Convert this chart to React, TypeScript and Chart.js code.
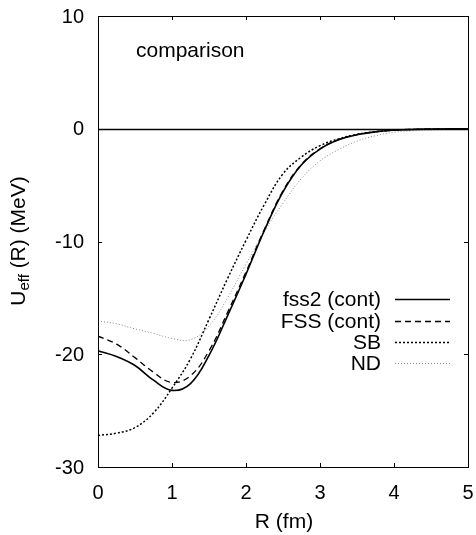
import React, { useEffect, useRef } from "react";
import { Chart, registerables } from "chart.js";

Chart.register(...registerables);

const R = [0, 0.25, 0.5, 0.75, 1, 1.25, 1.5, 1.75, 2, 2.25, 2.5, 2.75, 3, 3.25, 3.5, 3.75, 4, 4.25, 4.5, 4.75, 5];
const fss2 = [-19.7, -20.2, -21.0, -22.3, -23.2, -22.6, -20.1, -16.6, -12.9, -9.0, -5.6, -3.2, -1.8, -0.98, -0.53, -0.27, -0.13, -0.06, -0.03, -0.01, 0];
const FSS = [-18.4, -19.1, -20.3, -21.6, -22.5, -21.9, -19.7, -16.3, -12.7, -8.9, -5.5, -3.15, -1.78, -0.97, -0.52, -0.27, -0.13, -0.06, -0.03, -0.01, 0];
const SB = [-27.2, -27.0, -26.5, -25.2, -23.0, -20.4, -16.9, -13.3, -9.9, -6.7, -4.0, -2.5, -1.5, -0.9, -0.5, -0.26, -0.12, -0.06, -0.03, -0.01, 0];
const ND = [-17.05, -17.3, -17.75, -18.15, -18.6, -18.7, -17.5, -15.0, -12.0, -9.1, -6.6, -4.4, -2.85, -1.85, -1.1, -0.62, -0.32, -0.17, -0.1, -0.04, 0];

const seriesNames = ["fss2 (cont)", "FSS (cont)", "SB", "ND"];
const xTicks = [0, 1, 2, 3, 4, 5];
const yTicks = [-30, -20, -10, 0, 10];

const FONT = "'Liberation Sans', Arial, Helvetica, sans-serif";
const TICK_SIZE = 20;
const TEXT_SIZE = 21;

const styles = [
  { color: "#000", width: 1.6, dash: [] as number[] },
  { color: "#000", width: 1.3, dash: [6, 4] },
  { color: "#000", width: 1.5, dash: [2, 2] },
  { color: "#888", width: 1, dash: [1, 2] },
];

const decorPlugin = {
  id: "decor",
  afterDraw(chart: any) {
    const ctx = chart.ctx as CanvasRenderingContext2D;
    const { left, right, top, bottom } = chart.chartArea;
    const xs = chart.scales.x;
    const ys = chart.scales.y;
    ctx.save();
    ctx.strokeStyle = "#000";
    ctx.setLineDash([]);
    // zero line
    const y0 = Math.round(ys.getPixelForValue(0)) + 0.5;
    ctx.beginPath();
    ctx.moveTo(left, y0);
    ctx.lineTo(right, y0);
    ctx.lineWidth = 1.5;
    ctx.stroke();
    ctx.lineWidth = 1;
    // frame
    ctx.strokeRect(Math.round(left) + 0.5, Math.round(top) + 0.5, Math.round(right - left), Math.round(bottom - top));
    // ticks inward
    const tl = 4;
    ctx.beginPath();
    xTicks.forEach((v) => {
      const px = Math.round(xs.getPixelForValue(v)) + 0.5;
      ctx.moveTo(px, bottom);
      ctx.lineTo(px, bottom - tl);
      ctx.moveTo(px, top);
      ctx.lineTo(px, top + tl);
    });
    yTicks.forEach((v) => {
      const py = Math.round(ys.getPixelForValue(v)) + 0.5;
      ctx.moveTo(left, py);
      ctx.lineTo(left + tl, py);
      ctx.moveTo(right, py);
      ctx.lineTo(right - tl, py);
    });
    ctx.stroke();

    ctx.fillStyle = "#000";
    // tick labels
    ctx.font = `${TICK_SIZE}px ${FONT}`;
    ctx.textBaseline = "middle";
    ctx.textAlign = "center";
    xTicks.forEach((v) => {
      ctx.fillText(String(v), xs.getPixelForValue(v), 493);
    });
    ctx.textAlign = "right";
    yTicks.forEach((v) => {
      ctx.fillText(String(v), 84, ys.getPixelForValue(v) + 1);
    });

    // comparison label
    ctx.font = `${TEXT_SIZE}px ${FONT}`;
    ctx.textAlign = "left";
    ctx.fillText("comparison", 136, 51);

    // legend
    const rows = [299, 321, 342, 363];
    seriesNames.forEach((name, i) => {
      ctx.textAlign = "right";
      ctx.fillStyle = "#000";
      ctx.fillText(name, 381, rows[i] + 1);
      const s = styles[i];
      ctx.beginPath();
      ctx.strokeStyle = s.color;
      ctx.lineWidth = s.width;
      ctx.setLineDash(s.dash);
      ctx.moveTo(395, rows[i] + 0.5);
      ctx.lineTo(450, rows[i] + 0.5);
      ctx.stroke();
    });
    ctx.setLineDash([]);

    // x title
    ctx.fillStyle = "#000";
    ctx.textAlign = "center";
    ctx.textBaseline = "middle";
    ctx.fillText("R (fm)", 284, 522);

    // y title with subscript
    ctx.save();
    ctx.translate(18, 241);
    ctx.rotate(-Math.PI / 2);
    const big = `${TEXT_SIZE}px ${FONT}`;
    const small = `15px ${FONT}`;
    ctx.font = big;
    const wU = ctx.measureText("U").width;
    const rest = " (R) (MeV)";
    const wRest = ctx.measureText(rest).width;
    ctx.font = small;
    const wSub = ctx.measureText("eff").width;
    const total = wU + wSub + wRest;
    let x = -total / 2;
    ctx.textAlign = "left";
    ctx.textBaseline = "alphabetic";
    ctx.font = big;
    ctx.fillText("U", x, 7);
    x += wU;
    ctx.font = small;
    ctx.fillText("eff", x, 11);
    x += wSub;
    ctx.font = big;
    ctx.fillText(rest, x, 7);
    ctx.restore();

    ctx.restore();
  },
};

export default function App() {
  const ref = useRef<HTMLCanvasElement | null>(null);
  useEffect(() => {
    document.body.style.margin = "0";
    const series = [fss2, FSS, SB, ND];
    const chart = new Chart(ref.current as HTMLCanvasElement, {
      type: "line",
      data: {
        datasets: series.map((vals, i) => ({
          label: seriesNames[i],
          data: R.map((r, j) => ({ x: r, y: vals[j] })),
          borderColor: styles[i].color,
          borderWidth: styles[i].width,
          borderDash: styles[i].dash,
          pointRadius: 0,
          fill: false,
          tension: 0.4,
        })),
      },
      options: {
        responsive: false,
        animation: false,
        events: [],
        layout: { padding: { left: 0, top: 16, right: 8, bottom: 0 } },
        plugins: { legend: { display: false }, tooltip: { enabled: false }, title: { display: false } },
        scales: {
          x: {
            type: "linear",
            min: 0,
            max: 5,
            afterFit: (s: any) => {
              s.height = 68;
              s.paddingLeft = 0;
              s.paddingRight = 0;
            },
            afterBuildTicks: (s: any) => {
              s.ticks = xTicks.map((v) => ({ value: v }));
            },
            grid: { display: false, drawTicks: false },
            border: { display: false },
            ticks: { display: false },
          },
          y: {
            type: "linear",
            min: -30,
            max: 10,
            afterFit: (s: any) => {
              s.width = 98;
              s.paddingTop = 0;
              s.paddingBottom = 0;
            },
            afterBuildTicks: (s: any) => {
              s.ticks = yTicks.map((v) => ({ value: v }));
            },
            grid: { display: false, drawTicks: false },
            border: { display: false },
            ticks: { display: false },
          },
        },
      },
      plugins: [decorPlugin],
    });
    return () => chart.destroy();
  }, []);
  return <canvas ref={ref} width={476} height={535} style={{ display: "block" }} />;
}
